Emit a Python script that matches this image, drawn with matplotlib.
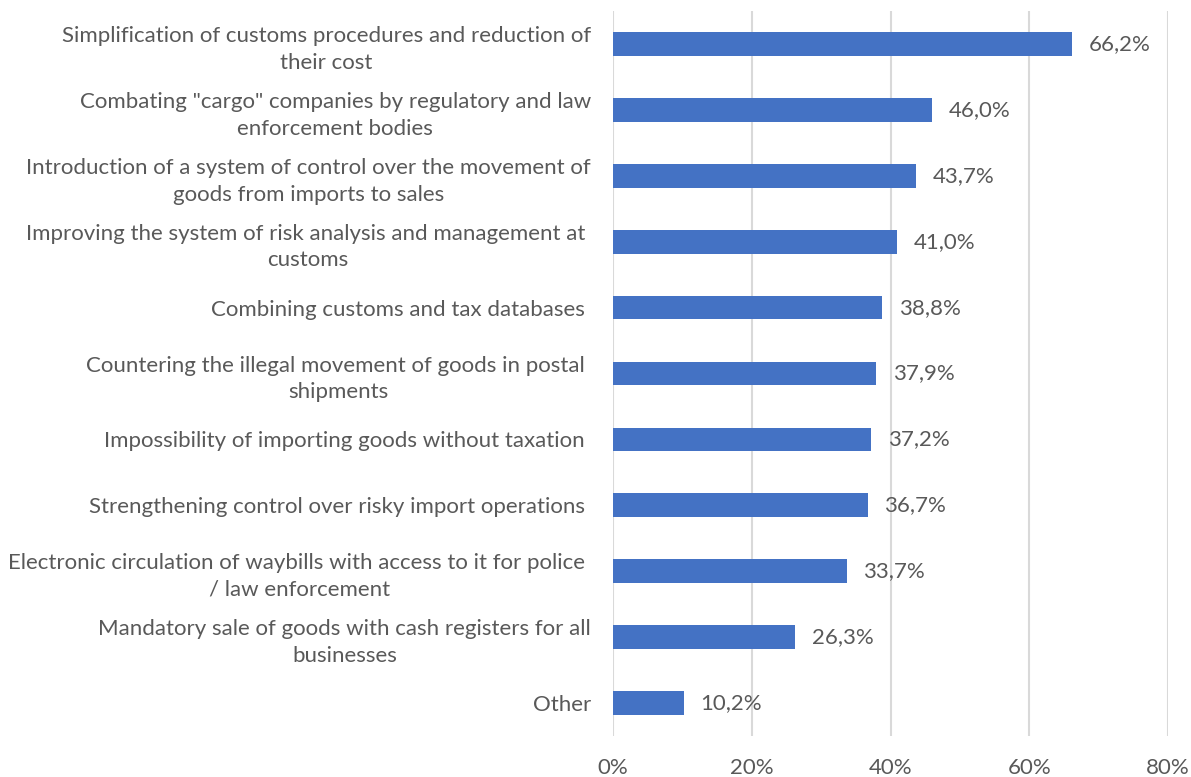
import matplotlib.pyplot as plt

plt.rcParams["font.family"] = ["Lato", "DejaVu Sans"]
plt.rcParams["font.size"] = 16

# 데이터
categories = [
    "Simplification of customs procedures and reduction of\ntheir cost",
    "Combating \"cargo\" companies by regulatory and law\nenforcement bodies",
    "Introduction of a system of control over the movement of\ngoods from imports to sales",
    "Improving the system of risk analysis and management at \ncustoms",
    "Combining customs and tax databases ",
    "Countering the illegal movement of goods in postal \nshipments",
    "Impossibility of importing goods without taxation ",
    "Strengthening control over risky import operations ",
    "Electronic circulation of waybills with access to it for police \n/ law enforcement",
    "Mandatory sale of goods with cash registers for all\nbusinesses",
    "Other",
]
values = [66.2, 46.0, 43.7, 41.0, 38.8, 37.9, 37.2, 36.7, 33.7, 26.3, 10.2]
xticks = [0, 20, 40, 60, 80]

text_color = "#595959"
bar_color = "#4472C4"

fig = plt.figure(figsize=(11.91, 7.77), dpi=100)
ax = fig.add_axes([0.5147, 0.0528, 0.466, 0.933])

y = list(range(len(values)))
ax.barh(y, values, height=0.36, color=bar_color, zorder=2)

for yi, v in zip(y, values):
    ax.annotate(f"{v:.1f}%".replace(".", ","), (v, yi), xytext=(12, 0),
                textcoords="offset points", va="center", ha="left",
                color=text_color, fontsize=16)

ax.set_xlim(0, 80)
ax.set_ylim(len(values) - 0.5, -0.5)
ax.set_xticks(xticks)
ax.set_xticklabels([f"{t}%" for t in xticks])
ax.set_yticks(y)
ax.set_yticklabels(categories)
for lbl in ax.get_yticklabels():
    lbl.set_multialignment("center")
    lbl.set_linespacing(1.42)

ax.grid(axis="x", color="#D9D9D9", linewidth=1.5, zorder=0)
for s in ax.spines.values():
    s.set_visible(False)
ax.tick_params(axis="both", length=0, colors=text_color, labelsize=16)
ax.tick_params(axis="y", pad=16)
ax.tick_params(axis="x", pad=16)

fig.savefig("out.png", dpi=100)
plt.close()
